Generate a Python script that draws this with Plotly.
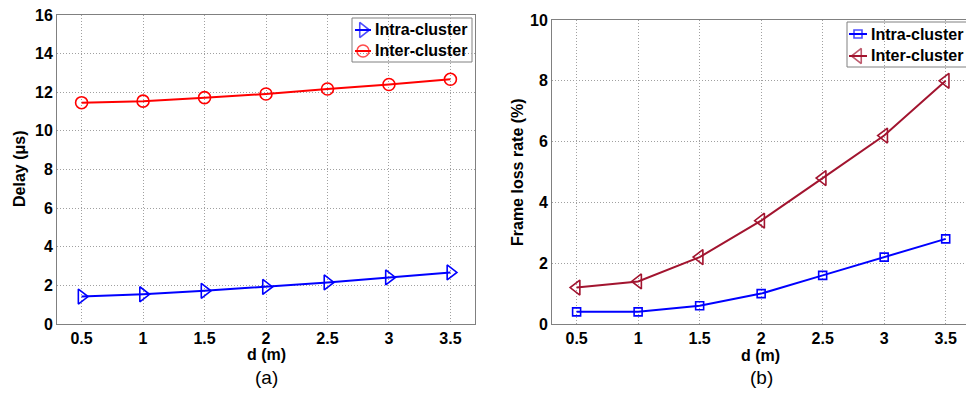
import plotly.graph_objects as go

# ---- data ----
d_vals = [0.5, 1, 1.5, 2, 2.5, 3, 3.5]
delay_intra = [1.42, 1.54, 1.72, 1.92, 2.15, 2.41, 2.67]
delay_inter = [11.46, 11.54, 11.72, 11.91, 12.17, 12.40, 12.67]
loss_intra = [0.4, 0.4, 0.6, 1.0, 1.6, 2.2, 2.8]
loss_inter = [1.2, 1.4, 2.2, 3.4, 4.8, 6.2, 8.0]
x_ticks = [0.5, 1, 1.5, 2, 2.5, 3, 3.5]
x_tick_text = ["0.5", "1", "1.5", "2", "2.5", "3", "3.5"]
delay_ticks = [0, 2, 4, 6, 8, 10, 12, 14, 16]
loss_ticks = [0, 2, 4, 6, 8, 10]
series_names = ["Intra-cluster", "Inter-cluster"]

W, H = 966, 393
ML, MR, MT, MB = 57, 0, 15, 69
PW = W - ML - MR
PH = H - MT - MB

def px_x(px):
    return (px - ML) / PW

def px_y(py):
    return (H - MB - py) / PH

def dom_x(px):
    return min(1.0, max(0.0, px_x(px)))

def dom_y(py):
    return min(1.0, max(0.0, px_y(py)))

FONT = "Liberation Sans, Arial, Helvetica, sans-serif"
BLUE = "#0000FF"
RED = "#FF0000"
DARKRED = "#A2142F"

styles = [
    dict(color=BLUE, symbol="triangle-right-open", size=13),
    dict(color=RED, symbol="circle-open", size=12),
    dict(color=BLUE, symbol="square-open", size=8),
    dict(color=DARKRED, symbol="triangle-left-open", size=13),
]

fig = go.Figure()

def add_series(x, y, st, xa, ya):
    fig.add_trace(go.Scatter(
        x=x, y=y, mode="lines+markers", showlegend=False,
        line=dict(color=st["color"], width=2),
        marker=dict(symbol=st["symbol"], size=st["size"], color=st["color"],
                    line=dict(width=1.6, color=st["color"])),
        xaxis=xa, yaxis=ya))

add_series(d_vals, delay_intra, styles[0], "x", "y")
add_series(d_vals, delay_inter, styles[1], "x", "y")
add_series(d_vals, loss_intra, styles[2], "x2", "y2")
add_series(d_vals, loss_inter, styles[3], "x2", "y2")

# ---- hand-made legends (keys drawn on an invisible pixel-scaled overlay axis) ----
legend_boxes = [
    dict(x0=352, x1=472, y0=18, y1=62, rows=[30, 51], key=(355, 371), text_x=373, st=[styles[0], styles[1]]),
    dict(x0=847, x1=995, y0=22, y1=67, rows=[34, 56], key=(849, 867), text_x=869, st=[styles[2], styles[3]]),
]
shapes = []
annotations = []
for lb in legend_boxes:
    shapes.append(dict(type="rect", xref="paper", yref="paper",
                       x0=px_x(lb["x0"]), x1=px_x(lb["x1"]), y0=px_y(lb["y1"]), y1=px_y(lb["y0"]),
                       line=dict(color="#808080", width=1), fillcolor="white", layer="between"))
    for ry, st, name in zip(lb["rows"], lb["st"], series_names):
        k0, k1 = lb["key"]
        fig.add_trace(go.Scatter(
            x=[k0, (k0 + k1) / 2, k1], y=[ry, ry, ry], mode="lines+markers", showlegend=False,
            hoverinfo="skip", line=dict(color=st["color"], width=2),
            marker=dict(symbol=st["symbol"], size=[0, st["size"], 0], color=st["color"],
                        line=dict(width=1.6, color=st["color"])),
            xaxis="x3", yaxis="y3", cliponaxis=False))
        annotations.append(dict(text=name, x=px_x(lb["text_x"]), y=px_y(ry), xanchor="left",
                                yanchor="middle", font=dict(family=FONT, size=16, color="black", weight="bold")))

tickfont = dict(family=FONT, size=16, color="black", weight="bold")
grid = dict(showgrid=True, gridcolor="#a0a0a0", griddash="1px,2px", gridwidth=1, zeroline=False)
frame = dict(showline=True, linecolor="#808080", linewidth=1)

fig.update_layout(
    width=W, height=H,
    margin=dict(l=ML, r=MR, t=MT, b=MB, autoexpand=False),
    paper_bgcolor="white", plot_bgcolor="rgba(0,0,0,0)",
    font=dict(family=FONT, color="black"),
    showlegend=False,
    xaxis=dict(domain=[dom_x(57), dom_x(475)], range=[0.3, 3.7], tickvals=x_ticks, ticktext=x_tick_text,
               tickfont=tickfont, mirror=True, anchor="y", ticks="", **grid, **frame),
    yaxis=dict(domain=[0, 1], range=[0, 16], tickvals=delay_ticks, tickfont=tickfont,
               mirror=True, anchor="x", ticks="", **grid, **frame),
    xaxis2=dict(domain=[dom_x(552), 1], range=[0.3, 3.665], tickvals=x_ticks, ticktext=x_tick_text,
                tickfont=tickfont, mirror=True, anchor="y2", ticks="", **grid, **frame),
    yaxis2=dict(domain=[dom_y(324), dom_y(20)], range=[0, 10], tickvals=loss_ticks, tickfont=tickfont,
                mirror=False, anchor="x2", ticks="", **grid, **frame),
    xaxis3=dict(domain=[0, 1], range=[ML, W - MR], visible=False, anchor="y3", fixedrange=True),
    yaxis3=dict(domain=[0, 1], range=[H - MB, MT], visible=False, anchor="x3", fixedrange=True),
)

ann_font = dict(family=FONT, size=16, color="black", weight="bold")
annotations += [
    dict(text="Delay (\u03bcs)", x=px_x(19), y=px_y(169), textangle=-90, font=ann_font),
    dict(text="Frame loss rate (%)", x=px_x(517), y=px_y(172), textangle=-90, font=ann_font),
    dict(text="d (m)", x=px_x(266), y=px_y(354), font=ann_font),
    dict(text="d (m)", x=px_x(760), y=px_y(355), font=ann_font),
    dict(text="(a)", x=px_x(266), y=px_y(377), font=dict(family=FONT, size=19, color="black")),
    dict(text="(b)", x=px_x(761), y=px_y(377), font=dict(family=FONT, size=19, color="black")),
]
for a in annotations:
    a.setdefault("xanchor", "center")
    a.setdefault("yanchor", "middle")
    a.update(xref="paper", yref="paper", showarrow=False)
fig.update_layout(annotations=annotations, shapes=shapes)

fig.write_html("out.html")
